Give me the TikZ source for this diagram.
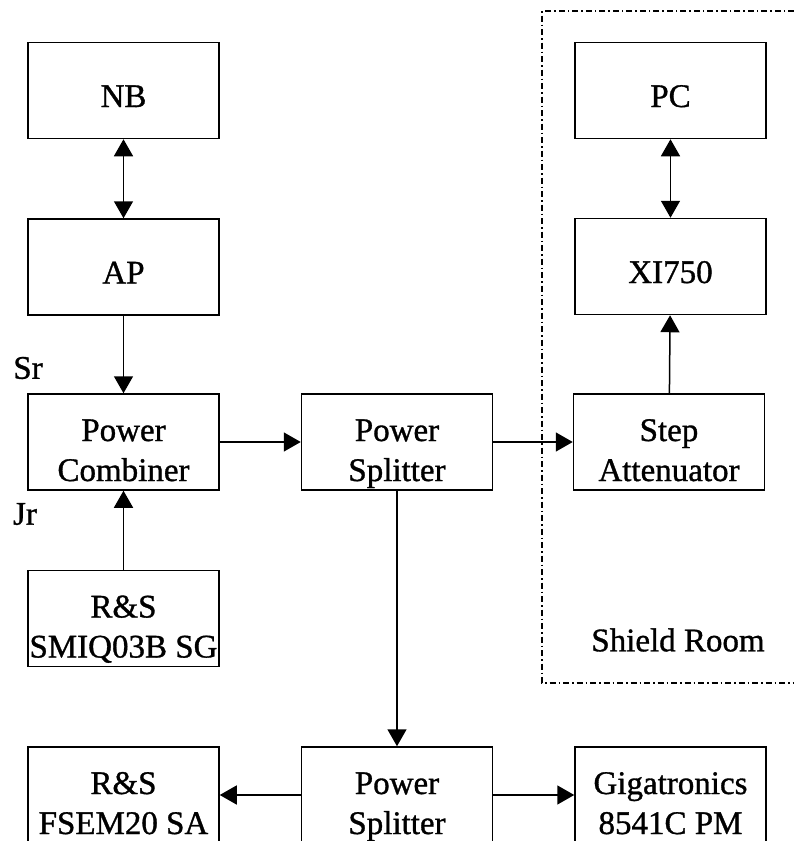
\documentclass[tikz,border=0pt]{standalone}
\usepackage{fontspec}
\setmainfont[FakeBold=1]{Liberation Serif}
\usetikzlibrary{arrows.meta}
\tikzset{
  unit/.style={draw,line width=1.5pt,minimum width=191pt,minimum height=96pt,
    inner sep=0pt,align=center,font=\fontsize{33}{40}\selectfont,
    text height=#1,text depth=0pt},
  unit/.default=33pt,
  sig/.style={line width=1.5pt,-{Triangle[length=17pt,width=19pt]}},
  duplex/.style={line width=1.5pt,{Triangle[length=17pt,width=19pt]}-{Triangle[length=17pt,width=19pt]}},
  tag/.style={inner sep=0pt,font=\fontsize{33}{40}\selectfont}
}
\begin{document}
\begin{tikzpicture}[x=1pt,y=-1pt]
        \clip(0,0)rectangle(794,841);
        \useasboundingbox(0,0)rectangle(794,841);
        \def\colL{123.5}
        \def\colM{397}
        \def\colR{670.5}
        \def\two{78pt}
        % left column
        \node[unit](nb)at(\colL,90.5){NB};
        \node[unit](ap)at(\colL,267){AP};
        \node[unit=\two](comb)at(\colL,442){Power\\Combiner};
        \node[unit=\two](smiq)at(\colL,618.5){R\&S\\SMIQ03B SG};
        \node[tag](sr)at(28,368){Sr};
        \node[tag](jr)at(25,514){Jr};
        % middle
        \node[unit=\two](split)at(\colM,442){Power\\Splitter};
        \node[unit=\two](splitb)at(\colM,795){Power\\Splitter};
        \node[unit=\two](fsem)at(\colL,795){R\&S\\FSEM20 SA};
        \node[unit=\two](giga)at(\colR,795){Gigatronics\\8541C PM};
        % shield room
        \node[unit](pc)at(\colR,90.5){PC};
        \node[unit](xi)at(\colR,266.5){XI750};
        \node[unit=\two](att)at(669,442){Step\\Attenuator};
        \node[tag](room)at(678,640){Shield Room};
        \draw[line width=1.2pt,dash pattern=on 6pt off 3pt on 1.5pt off 3pt]
          (794,11)--(542,11)--(542,683)--(794,683);
        \draw[duplex](nb)--(ap);
        \draw[sig](ap)--(comb);
        \draw[sig](smiq)--(comb);
        \draw[sig](comb)--(split);
        \draw[sig](split)--(att);
        \draw[sig](att)--(xi);
        \draw[duplex](pc)--(xi);
        \draw[sig](split)--(splitb);
        \draw[sig](splitb)--(fsem);
        \draw[sig](splitb)--(giga);
\end{tikzpicture}
\end{document}
